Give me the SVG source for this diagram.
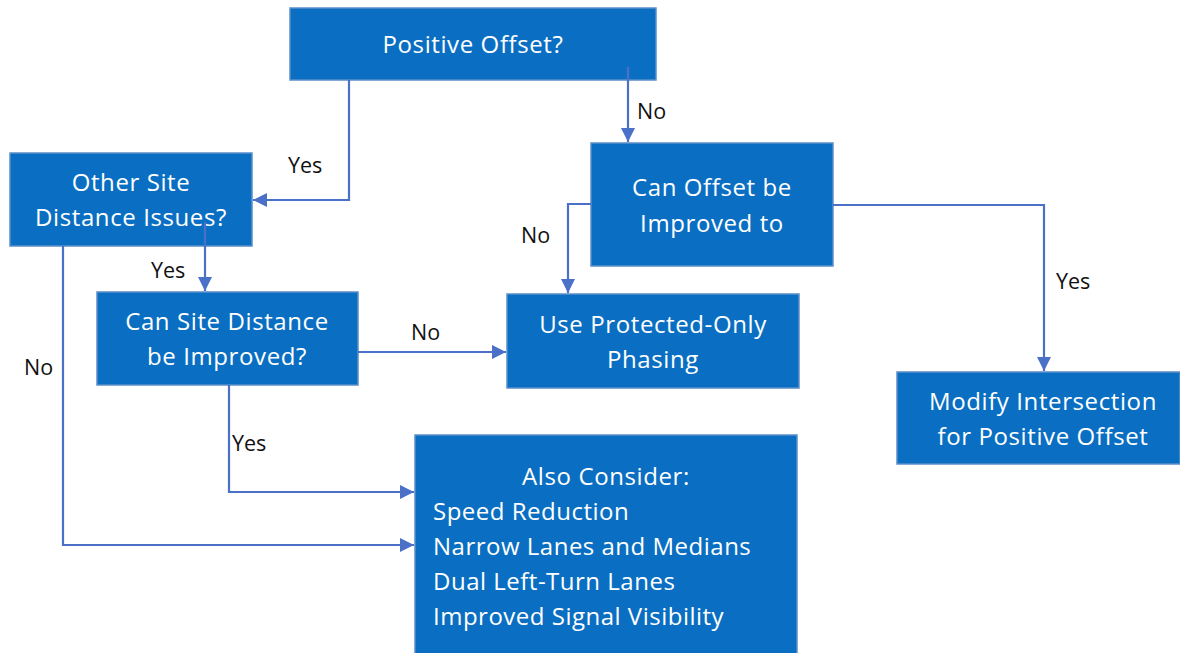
<svg xmlns="http://www.w3.org/2000/svg" width="1180" height="653" viewBox="0 0 1180 653">
<style>
.box{fill:#0A6FC2;stroke:#5B8FC9;stroke-width:1.5}
.t{font-family:"Open Sans","Liberation Sans",sans-serif;font-size:24px;letter-spacing:0.6px;fill:#FFFFFF;text-anchor:middle}
.tl{font-family:"Open Sans","Liberation Sans",sans-serif;font-size:24px;letter-spacing:0.5px;fill:#FFFFFF}
.lbl{font-family:"Open Sans","Liberation Sans",sans-serif;font-size:21.5px;fill:#111111}
.c{fill:none;stroke:#4A70C8;stroke-width:2.2}
</style>
<defs>
<marker id="ah" viewBox="0 0 10 10" refX="10" refY="5" markerWidth="6.5" markerHeight="6.5" markerUnits="strokeWidth" orient="auto">
<path d="M0,0 L10,5 L0,10 z" fill="#4A70C8"/>
</marker>
</defs>
<rect width="1180" height="653" fill="#FFFFFF"/>
<g id="n1"><rect class="box" x="290" y="8" width="366" height="72"/><text class="t" x="473" y="53">Positive Offset?</text></g>
<g id="n2"><rect class="box" x="10" y="153" width="242" height="93"/><text class="t" x="131" y="191">Other Site</text><text class="t" x="131" y="226">Distance Issues?</text></g>
<g id="n3"><rect class="box" x="97" y="292" width="261" height="93"/><text class="t" x="227" y="330">Can Site Distance</text><text class="t" x="227" y="365">be Improved?</text></g>
<g id="n4"><rect class="box" x="591" y="143" width="242" height="123"/><text class="t" x="712" y="196">Can Offset be</text><text class="t" x="712" y="232">Improved to</text></g>
<g id="n5"><rect class="box" x="507" y="294" width="292" height="94"/><text class="t" x="653" y="333">Use Protected-Only</text><text class="t" x="653" y="368">Phasing</text></g>
<g id="n6"><rect class="box" x="897" y="372" width="283" height="92"/><text class="t" x="1043" y="410">Modify Intersection</text><text class="t" x="1043" y="445">for Positive Offset</text></g>
<g id="n7"><rect class="box" x="415" y="435" width="382" height="225"/><text class="t" x="606" y="485">Also Consider:</text><text class="tl" x="433" y="520">Speed Reduction</text><text class="tl" x="433" y="555">Narrow Lanes and Medians</text><text class="tl" x="433" y="590">Dual Left-Turn Lanes</text><text class="tl" x="433" y="625">Improved Signal Visibility</text></g>
<g id="connectors">
<path class="c" d="M349,80 V200 H253" marker-end="url(#ah)"/>
<path class="c" d="M628,67 V142" marker-end="url(#ah)"/>
<path class="c" d="M205,222 V291" marker-end="url(#ah)"/>
<path class="c" d="M63,246 V545 H414" marker-end="url(#ah)"/>
<path class="c" d="M358,352 H506" marker-end="url(#ah)"/>
<path class="c" d="M229,385 V492 H414" marker-end="url(#ah)"/>
<path class="c" d="M591,204 H568 V293" marker-end="url(#ah)"/>
<path class="c" d="M833,205 H1044 V371" marker-end="url(#ah)"/>
<text class="lbl" x="288" y="173">Yes</text>
<text class="lbl" x="637" y="119">No</text>
<text class="lbl" x="151" y="278">Yes</text>
<text class="lbl" x="24" y="375">No</text>
<text class="lbl" x="411" y="340">No</text>
<text class="lbl" x="232" y="451">Yes</text>
<text class="lbl" x="521" y="243">No</text>
<text class="lbl" x="1056" y="289">Yes</text>
</g>
</svg>
